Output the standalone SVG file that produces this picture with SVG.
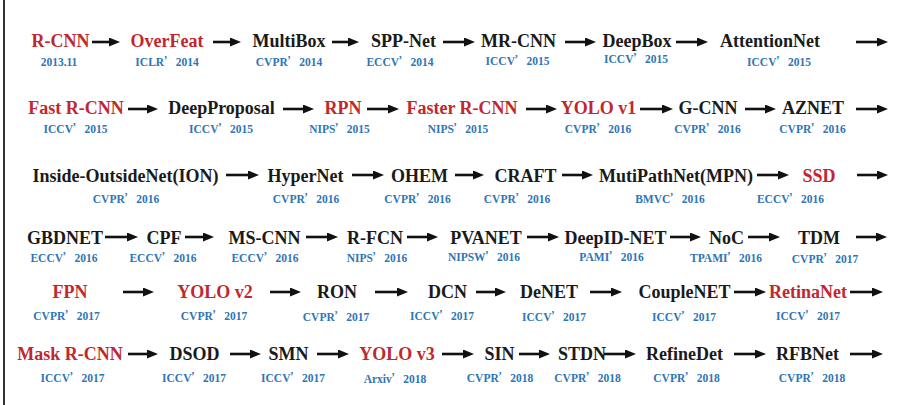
<svg xmlns="http://www.w3.org/2000/svg" width="903" height="405" viewBox="0 0 903 405">
<style>
.n{font-family:"Liberation Serif","Times New Roman",serif;font-weight:bold;font-size:18px;text-anchor:middle;fill:#1a1a1a}
.r{fill:#c1272d}
.s{font-family:"Liberation Serif","Times New Roman",serif;font-weight:bold;font-size:11.5px;text-anchor:middle;fill:#2e75b6}
.q{font-family:"Noto Sans CJK SC",sans-serif;font-weight:bold}
.a{stroke:#111;stroke-width:2.6;fill:none;marker-end:url(#ah)}
</style>
<defs>
<marker id="ah" markerUnits="userSpaceOnUse" markerWidth="11" markerHeight="9" refX="2" refY="4.5" orient="auto">
<path d="M0,0 L11,4.5 L0,9 z" fill="#111"/>
</marker>
</defs>
<rect width="903" height="405" fill="#fff"/>
<line x1="4" y1="0" x2="4" y2="405" stroke="#333" stroke-width="2"/>

<g id="r1">
<g id="rcnn"><text class="n r" x="60.5" y="47">R-CNN</text><text class="s" x="59" y="66">2013.11</text></g>
<g id="overfeat"><text class="n r" x="167" y="47">OverFeat</text><text class="s" x="167" y="66">ICLR<tspan class="q">’</tspan>2014</text></g>
<g id="multibox"><text class="n" x="289" y="47">MultiBox</text><text class="s" x="289" y="66">CVPR<tspan class="q">’</tspan>2014</text></g>
<g id="sppnet"><text class="n" x="403.5" y="47">SPP-Net</text><text class="s" x="400" y="66">ECCV<tspan class="q">’</tspan>2014</text></g>
<g id="mrcnn"><text class="n" x="518.5" y="47">MR-CNN</text><text class="s" x="517.5" y="65">ICCV<tspan class="q">’</tspan>2015</text></g>
<g id="deepbox"><text class="n" x="637" y="47">DeepBox</text><text class="s" x="636" y="63">ICCV<tspan class="q">’</tspan>2015</text></g>
<g id="attentionnet"><text class="n" x="770" y="47">AttentionNet</text><text class="s" x="779" y="66">ICCV<tspan class="q">’</tspan>2015</text></g>
</g>

<g id="r2">
<g id="fastrcnn"><text class="n r" x="76" y="114">Fast R-CNN</text><text class="s" x="75.5" y="133">ICCV<tspan class="q">’</tspan>2015</text></g>
<g id="deepproposal"><text class="n" x="221.5" y="114">DeepProposal</text><text class="s" x="221" y="133">ICCV<tspan class="q">’</tspan>2015</text></g>
<g id="rpn"><text class="n r" x="343" y="114">RPN</text><text class="s" x="339.5" y="133">NIPS<tspan class="q">’</tspan>2015</text></g>
<g id="fasterrcnn"><text class="n r" x="462" y="114">Faster R-CNN</text><text class="s" x="458" y="133">NIPS<tspan class="q">’</tspan>2015</text></g>
<g id="yolov1"><text class="n r" x="598.5" y="114">YOLO v1</text><text class="s" x="598" y="133">CVPR<tspan class="q">’</tspan>2016</text></g>
<g id="gcnn"><text class="n" x="708" y="114">G-CNN</text><text class="s" x="707.5" y="133">CVPR<tspan class="q">’</tspan>2016</text></g>
<g id="aznet"><text class="n" x="813" y="114">AZNET</text><text class="s" x="812.5" y="133">CVPR<tspan class="q">’</tspan>2016</text></g>
</g>

<g id="r3">
<g id="ion"><text class="n" x="125.5" y="182">Inside-OutsideNet(ION)</text><text class="s" x="126" y="203">CVPR<tspan class="q">’</tspan>2016</text></g>
<g id="hypernet"><text class="n" x="305.5" y="182">HyperNet</text><text class="s" x="306" y="203">CVPR<tspan class="q">’</tspan>2016</text></g>
<g id="ohem"><text class="n" x="419.5" y="182">OHEM</text><text class="s" x="417.5" y="203">CVPR<tspan class="q">’</tspan>2016</text></g>
<g id="craft"><text class="n" x="525.5" y="182">CRAFT</text><text class="s" x="517" y="203">CVPR<tspan class="q">’</tspan>2016</text></g>
<g id="mpn"><text class="n" x="676" y="182">MutiPathNet(MPN)</text><text class="s" x="670" y="203">BMVC<tspan class="q">’</tspan>2016</text></g>
<g id="ssd"><text class="n r" x="819" y="182">SSD</text><text class="s" x="790.5" y="203">ECCV<tspan class="q">’</tspan>2016</text></g>
</g>

<g id="r4">
<g id="gbdnet"><text class="n" x="65" y="244">GBDNET</text><text class="s" x="64" y="262">ECCV<tspan class="q">’</tspan>2016</text></g>
<g id="cpf"><text class="n" x="164" y="244">CPF</text><text class="s" x="163" y="262">ECCV<tspan class="q">’</tspan>2016</text></g>
<g id="mscnn"><text class="n" x="264.5" y="244">MS-CNN</text><text class="s" x="265" y="262">ECCV<tspan class="q">’</tspan>2016</text></g>
<g id="rfcn"><text class="n" x="375" y="244">R-FCN</text><text class="s" x="377" y="262">NIPS<tspan class="q">’</tspan>2016</text></g>
<g id="pvanet"><text class="n" x="486" y="244">PVANET</text><text class="s" x="484" y="261">NIPSW<tspan class="q">’</tspan>2016</text></g>
<g id="deepidnet"><text class="n" x="615.5" y="244">DeepID-NET</text><text class="s" x="611.5" y="261">PAMI<tspan class="q">’</tspan>2016</text></g>
<g id="noc"><text class="n" x="726.5" y="244">NoC</text><text class="s" x="726" y="262">TPAMI<tspan class="q">’</tspan>2016</text></g>
<g id="tdm"><text class="n" x="819" y="244">TDM</text><text class="s" x="825" y="263">CVPR<tspan class="q">’</tspan>2017</text></g>
</g>

<g id="r5">
<g id="fpn"><text class="n r" x="70" y="298">FPN</text><text class="s" x="66.5" y="320">CVPR<tspan class="q">’</tspan>2017</text></g>
<g id="yolov2"><text class="n r" x="215" y="298">YOLO v2</text><text class="s" x="214" y="320">CVPR<tspan class="q">’</tspan>2017</text></g>
<g id="ron"><text class="n" x="337" y="298">RON</text><text class="s" x="336" y="321">CVPR<tspan class="q">’</tspan>2017</text></g>
<g id="dcn"><text class="n" x="447.5" y="298">DCN</text><text class="s" x="442" y="320">ICCV<tspan class="q">’</tspan>2017</text></g>
<g id="denet"><text class="n" x="549" y="298">DeNET</text><text class="s" x="554" y="321">ICCV<tspan class="q">’</tspan>2017</text></g>
<g id="couplenet"><text class="n" x="684.5" y="298">CoupleNET</text><text class="s" x="684" y="321">ICCV<tspan class="q">’</tspan>2017</text></g>
<g id="retinanet"><text class="n r" x="808" y="298">RetinaNet</text><text class="s" x="808" y="320">ICCV<tspan class="q">’</tspan>2017</text></g>
</g>

<g id="r6">
<g id="maskrcnn"><text class="n r" x="70" y="360">Mask R-CNN</text><text class="s" x="72.5" y="382">ICCV<tspan class="q">’</tspan>2017</text></g>
<g id="dsod"><text class="n" x="194.5" y="360">DSOD</text><text class="s" x="194" y="382">ICCV<tspan class="q">’</tspan>2017</text></g>
<g id="smn"><text class="n" x="288.5" y="360">SMN</text><text class="s" x="293" y="382">ICCV<tspan class="q">’</tspan>2017</text></g>
<g id="yolov3"><text class="n r" x="397" y="360">YOLO v3</text><text class="s" x="395" y="383">Arxiv<tspan class="q">’</tspan>2018</text></g>
<g id="sin"><text class="n" x="499.5" y="360">SIN</text><text class="s" x="500" y="382">CVPR<tspan class="q">’</tspan>2018</text></g>
<g id="stdn"><text class="n" x="582" y="360">STDN</text><text class="s" x="587.5" y="382">CVPR<tspan class="q">’</tspan>2018</text></g>
<g id="refinedet"><text class="n" x="684.5" y="360">RefineDet</text><text class="s" x="686.5" y="382">CVPR<tspan class="q">’</tspan>2018</text></g>
<g id="rfbnet"><text class="n" x="807.5" y="360">RFBNet</text><text class="s" x="812" y="382">CVPR<tspan class="q">’</tspan>2018</text></g>
</g>

<g id="connectors">
<path class="a" d="M92,42H111"/><path class="a" d="M213,42H232"/><path class="a" d="M332,42H350"/><path class="a" d="M443,42H466"/><path class="a" d="M565,42H587"/><path class="a" d="M676,42H699"/><path class="a" d="M856,42H879"/>
<path class="a" d="M128,109H149"/><path class="a" d="M283,109H305"/><path class="a" d="M367,109H390"/><path class="a" d="M526,109H548"/><path class="a" d="M640,109H664"/><path class="a" d="M745,109H767"/><path class="a" d="M856,109H879"/>
<path class="a" d="M226,175H250"/><path class="a" d="M352,175H375"/><path class="a" d="M455,175H475"/><path class="a" d="M562,175H584"/><path class="a" d="M757,175H780"/><path class="a" d="M857,175H879"/>
<path class="a" d="M105,237H129"/><path class="a" d="M185,237H205"/><path class="a" d="M306,237H329"/><path class="a" d="M407,237H429"/><path class="a" d="M527,237H550"/><path class="a" d="M670,237H692"/><path class="a" d="M748,237H771"/><path class="a" d="M856,237H878"/>
<path class="a" d="M123,292H145"/><path class="a" d="M270,292H292"/><path class="a" d="M375,292H399"/><path class="a" d="M476,292H497"/><path class="a" d="M590,292H613"/><path class="a" d="M734,292H757"/><path class="a" d="M850,292H874"/>
<path class="a" d="M128,354H149"/><path class="a" d="M230,354H252"/><path class="a" d="M317,354H340"/><path class="a" d="M442,354H465"/><path class="a" d="M519,354H541"/><path class="a" d="M604,354H627"/><path class="a" d="M734,354H757"/><path class="a" d="M850,354H874"/>
</g>
</svg>
